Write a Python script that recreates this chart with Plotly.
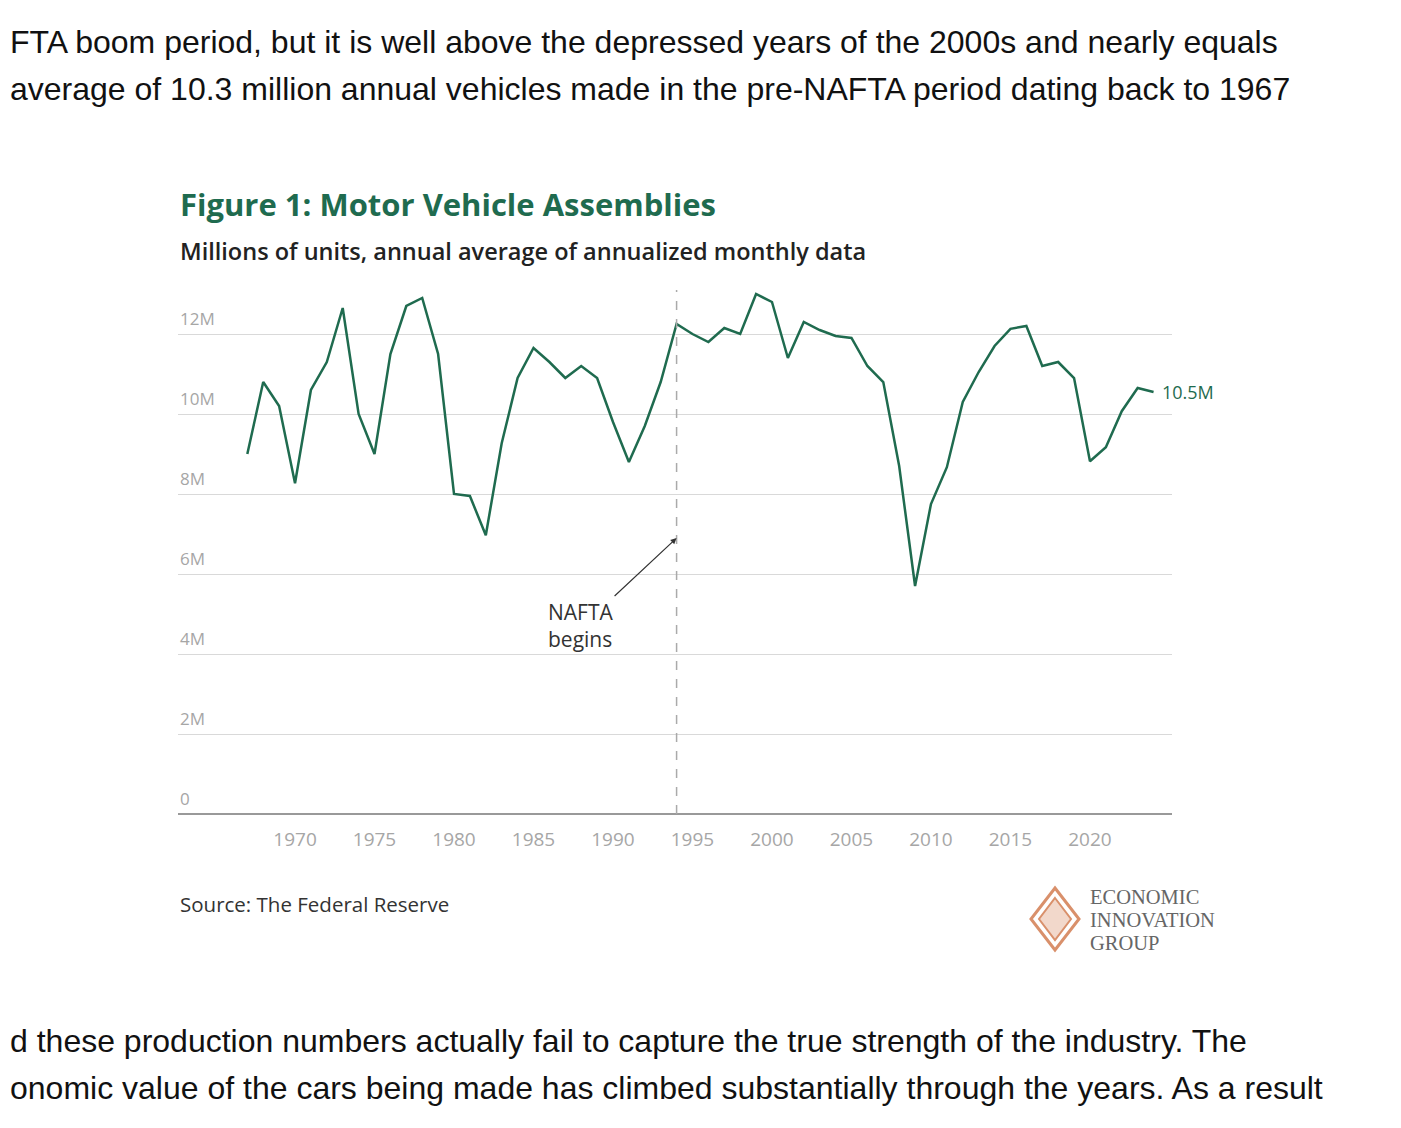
import plotly.graph_objects as go

years = list(range(1967, 2025))
units = [9.0, 10.8, 10.2, 8.27, 10.6, 11.3, 12.65, 10.0, 9.0, 11.5, 12.7, 12.9, 11.5, 8.0, 7.95, 6.97,
         9.27, 10.9, 11.65, 11.3, 10.9, 11.2, 10.9, 9.8, 8.8, 9.7, 10.8, 12.25, 12.0, 11.8, 12.15, 12.0,
         13.0, 12.8, 11.4, 12.3, 12.1, 11.95, 11.9, 11.2, 10.8, 8.7, 5.7, 7.75, 8.67, 10.3, 11.05, 11.7,
         12.13, 12.2, 11.2, 11.3, 10.9, 8.82, 9.17, 10.07, 10.65, 10.55]
y_ticks = [0, 2, 4, 6, 8, 10, 12]
y_labels = ["0", "2M", "4M", "6M", "8M", "10M", "12M"]
x_ticks = [1970, 1975, 1980, 1985, 1990, 1995, 2000, 2005, 2010, 2015, 2020]

GREEN = "#1f6b4f"
GRID = "#d9d9d9"
LBL = "#a6a6a6"
FONT = "Open Sans"
OFF = 8

fig = go.Figure()
fig.add_trace(go.Scatter(x=years, y=units, mode="lines", line=dict(color=GREEN, width=2.5),
                         hoverinfo="skip", showlegend=False))

fig.add_vline(x=1994, line=dict(color="#aaaaaa", width=1.5, dash="dash"))

ann = []
for v, t in zip(y_ticks, y_labels):
    ann.append(dict(x=0, xref="paper", y=v, yref="y", text=t, showarrow=False,
                    xanchor="left", yanchor="bottom", yshift=2,
                    font=dict(family=FONT, size=17, color=LBL)))
ann.append(dict(x=years[-1], y=units[-1], text="10.5M", showarrow=False, xanchor="left",
                xshift=6, font=dict(family=FONT, size=18, color=GREEN)))
ann.append(dict(x=1994, y=6.9, ax=-62, ay=58, text="NAFTA<br>begins", showarrow=True,
                arrowhead=2, arrowsize=1, arrowwidth=1.2, arrowcolor="#333", standoff=0,
                xanchor="right", yanchor="top", font=dict(family=FONT, size=21, color="#333"),
                align="left"))
fig.update_layout(annotations=ann)

W, H = 1401, 1128
L, R, T, B = 178 - OFF, 229 + OFF, 290 - OFF, 314 + OFF
pw, ph = W - L - R, H - T - B
def px(x): return (x - OFF - L) / pw
def py(y): return (H - B - (y - OFF)) / ph

def pa(x, y, text, size, color, weight="normal", family=FONT, anchor="left"):
    fig.add_annotation(x=px(x), y=py(y), xref="paper", yref="paper", text=text, showarrow=False,
                       xanchor=anchor, yanchor="middle",
                       font=dict(family=family, size=size, color=color, weight=weight))

pa(178, 204, "Figure 1: Motor Vehicle Assemblies", 31, GREEN, weight="bold")
pa(178, 251, "Millions of units, annual average of annualized monthly data", 23.5, "#222", weight=600)
pa(178, 904, "Source: The Federal Reserve", 20.5, "#333")
for i, t in enumerate(["ECONOMIC", "INNOVATION", "GROUP"]):
    pa(1088, 897 + i * 23, t, 20.5, "#666", family="Liberation Serif")

fig.add_shape(type="path", xref="paper", yref="paper",
              path=f"M {px(1055)} {py(888)} L {px(1079)} {py(919)} L {px(1055)} {py(950)} L {px(1031)} {py(919)} Z",
              line=dict(color="#d9906b", width=3), fillcolor="rgba(0,0,0,0)")
fig.add_shape(type="path", xref="paper", yref="paper",
              path=f"M {px(1055)} {py(898)} L {px(1071)} {py(919)} L {px(1055)} {py(940)} L {px(1039)} {py(919)} Z",
              line=dict(color="#d9906b", width=2), fillcolor="rgba(217,144,107,0.35)")

body = [(42, "FTA boom period, but it is well above the depressed years of the 2000s and nearly equals"),
        (89, "average of 10.3 million annual vehicles made in the pre-NAFTA period dating back to 1967"),
        (1041, "d these production numbers actually fail to capture the true strength of the industry. The"),
        (1088, "onomic value of the cars being made has climbed substantially through the years. As a result")]
for y, t in body:
    pa(OFF, y, t, 32, "#111", family="Liberation Sans")

fig.update_xaxes(range=[1962.64, 2025.16], tickvals=x_ticks, showgrid=False, zeroline=False,
                 showline=False, ticks="", ticklabelstandoff=12,
                 tickfont=dict(family=FONT, size=19, color=LBL))
fig.update_yaxes(range=[0, 13.1], tickvals=y_ticks, showticklabels=False, gridcolor=GRID,
                 gridwidth=1.2, zeroline=True, zerolinecolor="#999", zerolinewidth=1.5)
fig.update_layout(width=W, height=H, margin=dict(l=L, r=R, t=T, b=B),
                  plot_bgcolor="white", paper_bgcolor="white", showlegend=False)
fig.write_html("out.html")
